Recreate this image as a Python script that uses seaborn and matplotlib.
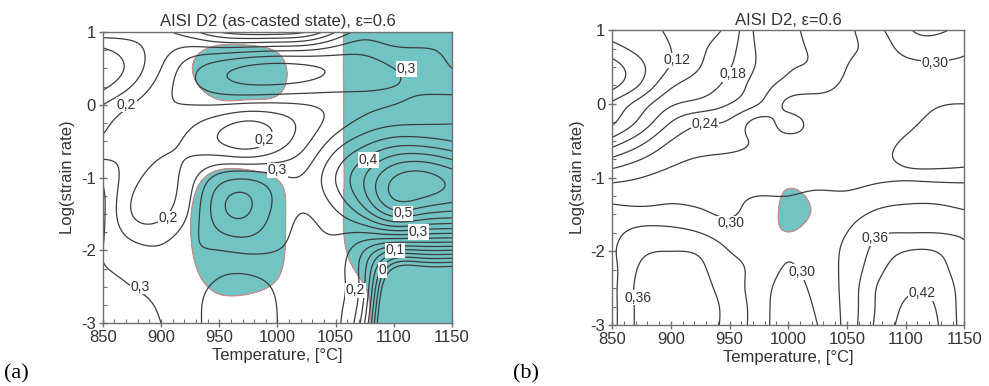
import numpy as np
import matplotlib
matplotlib.use("Agg")
import matplotlib.pyplot as plt
import seaborn as sns

# ---------------- data ----------------
temps = [850, 875, 900, 925, 950, 975, 1000, 1025, 1050, 1075, 1100, 1125, 1150]
log_rates_a = [1.0, 0.5, 0.0, -0.5, -1.0, -1.5, -2.0, -2.5, -3.0]
log_rates_b = [1.0, 0.75, 0.5, 0.25, 0.0, -0.25, -0.5, -0.75, -1.0, -1.25, -1.5,
               -1.75, -2.0, -2.25, -2.5, -2.75, -3.0]

# power dissipation efficiency, panel (a) (rows = log_rates_a, cols = temps)
eff_a = [
    [0.18, 0.17, 0.16, 0.12, 0.05, 0.02, 0.02, 0.05, 0.15, 0.22, 0.20, 0.22, 0.25],
    [0.05, 0.12, 0.20, 0.28, 0.33, 0.36, 0.37, 0.36, 0.34, 0.32, 0.30, 0.28, 0.25],
    [0.15, 0.20, 0.24, 0.25, 0.25, 0.24, 0.24, 0.25, 0.27, 0.29, 0.30, 0.31, 0.32],
    [0.21, 0.24, 0.22, 0.19, 0.15, 0.12, 0.17, 0.24, 0.32, 0.38, 0.42, 0.42, 0.40],
    [0.29, 0.22, 0.18, 0.23, 0.32, 0.34, 0.31, 0.31, 0.40, 0.50, 0.60, 0.62, 0.58],
    [0.31, 0.20, 0.19, 0.26, 0.38, 0.40, 0.33, 0.30, 0.34, 0.42, 0.52, 0.50, 0.48],
    [0.30, 0.27, 0.26, 0.29, 0.30, 0.31, 0.30, 0.29, 0.28, 0.20, 0.10, 0.10, 0.10],
    [0.31, 0.30, 0.29, 0.27, 0.24, 0.23, 0.26, 0.29, 0.26, 0.15, -0.25, -0.30, -0.30],
    [0.34, 0.32, 0.30, 0.27, 0.22, 0.21, 0.25, 0.29, 0.26, 0.10, -0.35, -0.40, -0.40],
]
# instability parameter, panel (a) (negative = unstable, shaded)
xi_a = [
    [1.0, 1.0, 1.0, 1.0, 1.0, 1.0, 1.0, 1.0, 0.4, -1.0, -1.0, -1.0, -1.0],
    [1.0, 1.0, 1.0, 0.1, -1.0, -1.0, -0.4, 0.8, 0.4, -1.0, -1.0, -1.0, -1.0],
    [1.0, 1.0, 1.0, 0.8, 0.25, 0.25, 0.3, 0.8, 0.4, -1.0, -1.0, -1.0, -1.0],
    [1.0, 1.0, 1.0, 1.0, 1.0, 1.0, 1.0, 1.0, 0.4, -1.0, -1.0, -1.0, -1.0],
    [1.0, 1.0, 1.0, 0.4, -0.3, -0.3, 0.05, 0.6, 0.4, -1.0, -1.0, -1.0, -1.0],
    [1.0, 1.0, 1.0, 0.05, -1.0, -1.0, -0.35, 0.8, 0.4, -1.0, -1.0, -1.0, -1.0],
    [1.0, 1.0, 1.0, 0.1, -1.0, -1.0, -0.3, 0.8, 0.6, -1.0, -1.0, -1.0, -1.0],
    [1.0, 1.0, 1.0, 0.5, -0.25, -0.25, 0.15, 0.8, 1.0, 0.02, -1.0, -1.0, -1.0],
    [1.0, 1.0, 1.0, 1.2, 1.2, 1.2, 1.2, 1.0, 1.0, 0.25, -1.0, -1.0, -1.0],
]
# power dissipation efficiency, panel (b) (rows = log_rates_b, cols = temps)
eff_b = [
    [0.100, 0.110, 0.125, 0.140, 0.160, 0.220, 0.235, 0.250, 0.265, 0.290, 0.325, 0.335, 0.320],
    [0.080, 0.100, 0.120, 0.145, 0.170, 0.215, 0.235, 0.245, 0.265, 0.280, 0.310, 0.315, 0.305],
    [0.045, 0.085, 0.122, 0.150, 0.178, 0.215, 0.238, 0.245, 0.270, 0.280, 0.290, 0.295, 0.295],
    [0.050, 0.095, 0.145, 0.165, 0.190, 0.225, 0.250, 0.260, 0.275, 0.283, 0.288, 0.292, 0.295],
    [0.095, 0.135, 0.175, 0.190, 0.210, 0.240, 0.275, 0.280, 0.280, 0.287, 0.290, 0.298, 0.300],
    [0.115, 0.160, 0.210, 0.235, 0.245, 0.278, 0.262, 0.282, 0.283, 0.290, 0.295, 0.305, 0.305],
    [0.160, 0.200, 0.240, 0.255, 0.260, 0.275, 0.278, 0.280, 0.285, 0.292, 0.302, 0.310, 0.308],
    [0.215, 0.240, 0.262, 0.272, 0.275, 0.280, 0.285, 0.285, 0.288, 0.294, 0.304, 0.308, 0.305],
    [0.260, 0.270, 0.280, 0.283, 0.285, 0.290, 0.290, 0.290, 0.290, 0.295, 0.298, 0.297, 0.297],
    [0.290, 0.290, 0.295, 0.293, 0.295, 0.300, 0.300, 0.305, 0.305, 0.315, 0.320, 0.320, 0.315],
    [0.310, 0.310, 0.310, 0.305, 0.298, 0.310, 0.310, 0.315, 0.320, 0.335, 0.340, 0.340, 0.335],
    [0.320, 0.340, 0.340, 0.330, 0.315, 0.315, 0.305, 0.320, 0.330, 0.355, 0.360, 0.360, 0.355],
    [0.325, 0.355, 0.360, 0.355, 0.330, 0.320, 0.303, 0.320, 0.335, 0.370, 0.390, 0.390, 0.365],
    [0.320, 0.365, 0.375, 0.365, 0.340, 0.320, 0.297, 0.315, 0.338, 0.380, 0.405, 0.403, 0.370],
    [0.320, 0.370, 0.380, 0.370, 0.345, 0.315, 0.290, 0.310, 0.340, 0.390, 0.415, 0.413, 0.375],
    [0.320, 0.370, 0.385, 0.375, 0.350, 0.315, 0.285, 0.305, 0.340, 0.392, 0.423, 0.420, 0.375],
    [0.320, 0.370, 0.385, 0.375, 0.350, 0.315, 0.283, 0.300, 0.340, 0.395, 0.428, 0.424, 0.375],
]
# instability parameter, panel (b): only one small unstable pocket
xi_b = [[1.0] * 13 for _ in log_rates_b]
xi_b[8][6] = 0.5
xi_b[9][5], xi_b[9][6], xi_b[9][7] = 1.5, -0.3, 0.6
xi_b[10][5], xi_b[10][6], xi_b[10][7] = 1.5, -0.6, 0.4
xi_b[11][6] = 0.05

levels_a = [-0.10, -0.05, 0.0, 0.05, 0.10, 0.15, 0.20, 0.25, 0.30, 0.35, 0.40,
            0.45, 0.50, 0.55, 0.60]
levels_b = [0.03, 0.06, 0.09, 0.12, 0.15, 0.18, 0.21, 0.24, 0.27, 0.30, 0.33,
            0.36, 0.39, 0.42]

labels_a = ["0,2", "0,3", "0,2", "0,4", "0,3", "0,2", "0,5", "0,3", "0,1", "0", "0,2", "0,3"]
label_pos_a = [(870, 0.0), (1111, 0.49), (989, -0.48), (1078, -0.76), (1000, -0.9),
               (906, -1.56), (1108, -1.49), (1121, -1.75), (1101, -2.0),
               (1090, -2.27), (1067, -2.55), (882, -2.5)]
labels_b = ["0,12", "0,18", "0,24", "0,30", "0,30", "0,36", "0,30", "0,36", "0,42"]
label_pos_b = [(905, 0.59), (953, 0.40), (929, -0.27), (1125, 0.55), (951, -1.62),
               (1074, -1.82), (1012, -2.28), (872, -2.63), (1114, -2.57)]

titles = ["AISI D2 (as-casted state), \u03b5=0.6", "AISI D2, \u03b5=0.6"]
panel_tags = ["(a)", "(b)"]


# ---------------- helpers ----------------
def spline_matrix(x, xo):
    """natural cubic spline weights mapping values at x to values at xo"""
    x = np.asarray(x, float)
    n = len(x)
    h = np.diff(x)
    A = np.zeros((n, n))
    B = np.zeros((n, n))
    A[0, 0] = A[-1, -1] = 1.0
    for i in range(1, n - 1):
        A[i, i - 1] = h[i - 1]
        A[i, i] = 2 * (h[i - 1] + h[i])
        A[i, i + 1] = h[i]
        B[i, i - 1] = 6 / h[i - 1]
        B[i, i] = -6 / h[i - 1] - 6 / h[i]
        B[i, i + 1] = 6 / h[i]
    Mm = np.linalg.solve(A, B)
    idx = np.clip(np.searchsorted(x, xo) - 1, 0, n - 2)
    W = np.zeros((len(xo), n))
    for k, (xv, i) in enumerate(zip(xo, idx)):
        hi = h[i]
        a = (x[i + 1] - xv) / hi
        b = (xv - x[i]) / hi
        W[k, i] += a
        W[k, i + 1] += b
        W[k] += ((a ** 3 - a) * hi ** 2 / 6) * Mm[i] + ((b ** 3 - b) * hi ** 2 / 6) * Mm[i + 1]
    return W


tx = np.asarray(temps, float)
tf = np.linspace(tx.min(), tx.max(), 301)
lf = np.linspace(-3, 1, 241)
Wx = spline_matrix(tx, tf)


def smooth(grid, rows):
    ly = np.asarray(rows, float)[::-1]
    Wy = spline_matrix(ly, lf)
    g = np.asarray(grid, float)[::-1]
    return Wy @ g @ Wx.T


# ---------------- style ----------------
sns.set_theme(style="ticks")
plt.rcParams["font.family"] = ["Liberation Sans", "DejaVu Sans"]
plt.rcParams["axes.edgecolor"] = "#707070"
plt.rcParams["axes.linewidth"] = 1.0
plt.rcParams["axes.unicode_minus"] = False

TEAL = "#72c3c3"
LINE = "#3c3c3c"

fig = plt.figure(figsize=(9.89, 3.86), dpi=100)
ax_a = fig.add_axes([0.104, 0.163, 0.353, 0.754])
ax_b = fig.add_axes([0.619, 0.158, 0.356, 0.764])

TT, LL = np.meshgrid(tf, lf)
panels = [
    (ax_a, eff_a, xi_a, log_rates_a, levels_a, labels_a, label_pos_a),
    (ax_b, eff_b, xi_b, log_rates_b, levels_b, labels_b, label_pos_b),
]
for k, (ax, eff, xi, rows, lev, labs, lpos) in enumerate(panels):
    E = smooth(eff, rows)
    X = smooth(xi, rows)
    ax.contourf(TT, LL, X, levels=[-100, 0], colors=[TEAL])
    ax.contour(TT, LL, X, levels=[0], colors=["#c98a8a"], linewidths=0.9,
               linestyles="solid")
    ax.contour(TT, LL, E, levels=lev, colors=[LINE], linewidths=0.9,
               linestyles="solid")
    for txt, (px, py) in zip(labs, lpos):
        ax.text(px, py, txt, fontsize=10, color="#333333", ha="center", va="center",
                bbox=dict(boxstyle="square,pad=0.05", fc="white", ec="none"))
    ax.set_xlim(850, 1150)
    ax.set_ylim(-3, 1)
    ax.set_xticks([850, 900, 950, 1000, 1050, 1100, 1150])
    ax.set_yticks([-3, -2, -1, 0, 1])
    ax.set_xticks(np.arange(850, 1151, 10), minor=True)
    ax.set_yticks(np.arange(-3, 1.01, 0.25), minor=True)
    ax.tick_params(which="major", direction="inout", length=6, width=1.0,
                   color="#707070", labelsize=12, labelcolor="#333333", pad=2)
    ax.tick_params(which="minor", direction="in", length=3, width=0.8, color="#707070")
    ax.set_xlabel("Temperature, [\u00b0C]", fontsize=12, color="#333333", labelpad=2)
    ax.set_ylabel("Log(strain rate)", fontsize=12, color="#333333", labelpad=4)
    ax.set_title(titles[k], fontsize=12, color="#333333", pad=4)
    for s in ax.spines.values():
        s.set_visible(True)

fig.text(0.004, 0.02, panel_tags[0], fontsize=16, family=["Liberation Serif"], color="black")
fig.text(0.519, 0.02, panel_tags[1], fontsize=16, family=["Liberation Serif"], color="black")

fig.savefig("out.png", dpi=100, facecolor="white")
